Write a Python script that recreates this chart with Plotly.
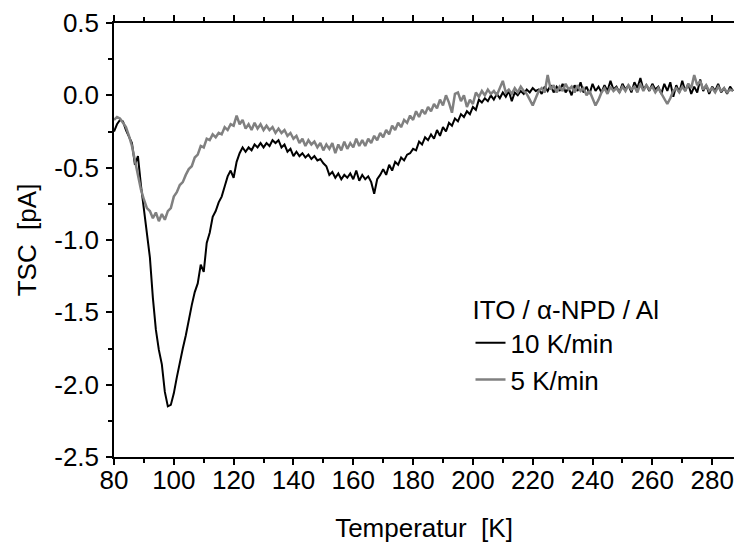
import plotly.graph_objects as go

temperature = list(range(80, 288))

tsc_10k = [
    -0.25, -0.20, -0.17, -0.18, -0.24, -0.28, -0.33, -0.48, -0.42, -0.62,
    -0.78, -0.92, -1.12, -1.40, -1.62, -1.76, -1.86, -2.05, -2.15, -2.14,
    -2.06, -1.95, -1.84, -1.75, -1.66, -1.55, -1.45, -1.36, -1.30, -1.17,
    -1.22, -1.02, -0.95, -0.84, -0.80, -0.74, -0.70, -0.63, -0.56, -0.52,
    -0.57, -0.46, -0.40, -0.36, -0.39, -0.36, -0.38, -0.34, -0.36, -0.33,
    -0.36, -0.33, -0.35, -0.31, -0.33, -0.31, -0.36, -0.34, -0.39, -0.37,
    -0.42, -0.39, -0.42, -0.40, -0.43, -0.41, -0.44, -0.42, -0.45, -0.44,
    -0.47, -0.49, -0.55, -0.53, -0.57, -0.54, -0.58, -0.55, -0.57, -0.54,
    -0.58, -0.52, -0.59, -0.55, -0.58, -0.56, -0.60, -0.68, -0.58, -0.55,
    -0.51, -0.55, -0.48, -0.52, -0.46, -0.48, -0.43, -0.45, -0.41, -0.40,
    -0.37, -0.38, -0.32, -0.34, -0.29, -0.31, -0.27, -0.30, -0.24, -0.28,
    -0.22, -0.25, -0.19, -0.21, -0.16, -0.18, -0.13, -0.15, -0.11, -0.13,
    -0.08, -0.10, -0.03, -0.05, -0.02, -0.04, 0.00, -0.03, 0.01, -0.02,
    0.02, -0.01, 0.03, -0.04, 0.02, 0.00, 0.03, 0.01, 0.04, 0.02,
    0.05, 0.03, 0.04, 0.01, 0.06, 0.03, 0.07, 0.02, 0.06, 0.03,
    0.08, 0.02, 0.05, 0.00, 0.07, 0.03, 0.09, 0.02, 0.06, 0.01,
    0.08, 0.03, 0.06, 0.02, 0.07, 0.03, 0.10, 0.04, 0.06, 0.02,
    0.08, 0.04, 0.07, 0.02, 0.09, 0.05, 0.12, 0.04, 0.07, 0.03,
    0.08, 0.04, 0.06, 0.01, 0.08, 0.03, 0.09, -0.01, 0.07, 0.02,
    0.10, 0.03, 0.08, 0.01, 0.06, 0.02, 0.11, 0.03, 0.07, 0.01,
    0.06, 0.03, 0.08, 0.02, 0.05, 0.01, 0.06, 0.03,
]

tsc_5k = [
    -0.17, -0.15, -0.16, -0.19, -0.22, -0.28, -0.35, -0.45, -0.55, -0.65,
    -0.72, -0.78, -0.80, -0.85, -0.81, -0.87, -0.82, -0.86, -0.80, -0.78,
    -0.70, -0.67, -0.62, -0.60, -0.55, -0.51, -0.49, -0.43, -0.41, -0.35,
    -0.36, -0.30, -0.31, -0.27, -0.29, -0.26, -0.27, -0.22, -0.24, -0.20,
    -0.21, -0.14, -0.20, -0.17, -0.23, -0.20, -0.24, -0.19, -0.23, -0.20,
    -0.24, -0.21, -0.24, -0.22, -0.26, -0.23, -0.26, -0.24, -0.28, -0.26,
    -0.30, -0.28, -0.33, -0.30, -0.35, -0.31, -0.34, -0.32, -0.36, -0.33,
    -0.38, -0.34, -0.37, -0.33, -0.40, -0.34, -0.38, -0.32, -0.37, -0.33,
    -0.36, -0.30, -0.35, -0.31, -0.35, -0.30, -0.33, -0.28, -0.31, -0.26,
    -0.29, -0.24, -0.27, -0.21, -0.24, -0.19, -0.22, -0.17, -0.19, -0.14,
    -0.17, -0.11, -0.15, -0.10, -0.13, -0.08, -0.11, -0.06, -0.09, -0.03,
    -0.07, 0.00, -0.05, -0.12, 0.01, 0.02, -0.04, 0.00, -0.08, -0.03,
    -0.06, 0.02, -0.01, 0.03, 0.00, 0.04, 0.01, 0.03, 0.00, 0.05,
    0.10, 0.02, 0.04, 0.01, 0.05, 0.02, 0.06, 0.03, 0.01, -0.03,
    -0.07, -0.02, 0.03, 0.05, 0.02, 0.14, 0.04, 0.07, 0.02, 0.06,
    0.03, 0.08, 0.04, 0.06, 0.02, 0.07, 0.03, 0.05, 0.00, 0.03,
    -0.02, -0.07, -0.03, 0.02, 0.05, 0.01, 0.06, 0.03, 0.05, 0.02,
    0.06, 0.03, 0.07, 0.04, 0.06, 0.02, 0.08, 0.03, 0.07, 0.04,
    0.06, 0.02, 0.05, 0.01, -0.02, -0.06, -0.02, 0.03, 0.05, 0.02,
    0.06, 0.03, 0.08, 0.05, 0.14, 0.07, 0.10, 0.04, 0.07, 0.03,
    0.05, 0.02, 0.06, 0.03, 0.05, 0.02, 0.04, 0.03,
]

x_ticks = [80, 100, 120, 140, 160, 180, 200, 220, 240, 260, 280]
y_ticks = [0.5, 0.0, -0.5, -1.0, -1.5, -2.0, -2.5]
y_tick_labels = ["0.5", "0.0", "-0.5", "-1.0", "-1.5", "-2.0", "-2.5"]

FONT = "Arial, Liberation Sans, sans-serif"
FS = 26

fig = go.Figure()
fig.add_trace(go.Scatter(x=temperature, y=tsc_10k, mode="lines", name="10 K/min",
                         line=dict(color="#000000", width=2)))
fig.add_trace(go.Scatter(x=temperature, y=tsc_5k, mode="lines", name="5 K/min",
                         line=dict(color="#808080", width=2.5)))

axis_common = dict(showgrid=False, zeroline=False, showline=True, linecolor="black",
                   linewidth=1.5, ticks="outside", tickcolor="black", tickwidth=1.5,
                   ticklen=6, tickfont=dict(family=FONT, size=FS, color="black"),
                   mirror="allticks")

# the page body adds an 8px margin, so the figure is 8px smaller than the window
fig.update_layout(
    width=734, height=535,
    margin=dict(l=106, r=0, t=15, b=85),
    plot_bgcolor="white", paper_bgcolor="white",
    font=dict(family=FONT, size=FS, color="black"),
    xaxis=dict(range=[80, 287.3], tickvals=x_ticks, ticklabelstandoff=-7,
               minor=dict(dtick=10, tick0=80, ticks="outside", ticklen=4, tickcolor="black", tickwidth=1.5),
               title=dict(text="Temperatur  [K]", font=dict(family=FONT, size=FS), standoff=30),
               **axis_common),
    yaxis=dict(range=[-2.5, 0.5], tickvals=y_ticks, ticktext=y_tick_labels, ticklabelstandoff=2,
               minor=dict(dtick=0.25, tick0=0, ticks="outside", ticklen=4, tickcolor="black", tickwidth=1.5),
               title=dict(text="TSC  [pA]", font=dict(family=FONT, size=FS), standoff=10),
               **axis_common),
    legend=dict(x=0.575, y=0.395, xanchor="left", yanchor="top",
                bgcolor="rgba(0,0,0,0)", font=dict(family=FONT, size=FS),
                title=dict(text="ITO / α-NPD / Al", font=dict(family=FONT, size=FS)),
                tracegroupgap=0),
    showlegend=True,
)

fig.write_html("out.html")
